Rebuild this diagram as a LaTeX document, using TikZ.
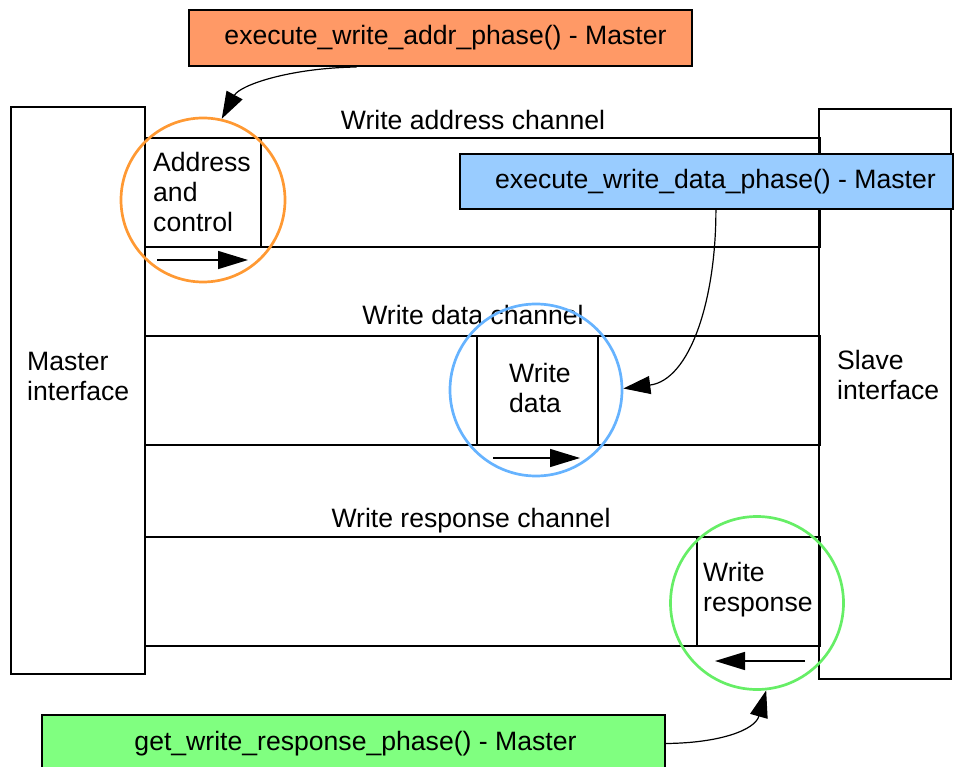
\documentclass[tikz,border=0pt]{standalone}
\usepackage{fontspec}
\setmainfont{Liberation Sans}
\usetikzlibrary{arrows.meta,calc}
\definecolor{ofill}{HTML}{FF9966}
\definecolor{bfill}{HTML}{99CCFF}
\definecolor{gfill}{HTML}{80FF80}
\definecolor{ocirc}{HTML}{FF9933}
\definecolor{bcirc}{HTML}{66B3FF}
\definecolor{gcirc}{HTML}{66EE66}
\begin{document}
\begin{tikzpicture}[x=1pt,y=-1pt,
  every node/.style={font=\fontsize{26.6}{30}\selectfont},
  wh/.style n args={2}{minimum width=#1pt, minimum height=#2pt},
  frame/.style={draw=black, line width=2pt, rectangle, inner sep=0pt},
  lbl/.style={inner sep=0pt, align=left},
  fn/.style={draw=black, line width=2pt, rectangle, inner sep=0pt},
  ring/.style={circle, line width=2.7pt, inner sep=0pt},
  sarr/.style={line width=1.5pt, -{Triangle[length=30pt,width=18pt]}},
  carr/.style={line width=1.2pt, -{Triangle[length=27pt,width=18pt]}}]
\useasboundingbox (0,0) rectangle (954,767);
% interfaces
\node[frame, wh={134}{567}] (master) at (78,390.5) {};
\node[frame, wh={132}{570}] (slave) at (885,394) {};
% channels
\node[frame, wh={675}{109}] (chA) at (482.5,192.5) {};
\node[frame, wh={116}{109}] (acbox) at (203,192.5) {};
\node[frame, wh={675}{109}] (chD) at (482.5,390.5) {};
\node[frame, wh={121}{109}] (wdbox) at (537.5,390.5) {};
\node[frame, wh={675}{109}] (chR) at (482.5,591.5) {};
\node[frame, wh={123}{109}] (wrbox) at (758.5,591.5) {};
% texts
\node[lbl, anchor=west] (mtxt) at (27,376) {Master\\interface};
\node[lbl, anchor=west] (stxt) at (837,375) {Slave\\interface};
\node[lbl, anchor=base] (chAl) at (473,129.5) {Write address channel};
\node[lbl, anchor=base] (chDl) at (473,325) {Write data channel};
\node[lbl, anchor=base] (chRl) at (471,527) {Write response channel};
\node[lbl, anchor=west] (actxt) at (153,192) {Address\\and\\control};
\node[lbl, anchor=west] (wdtxt) at (509,388) {Write\\data};
\node[lbl, anchor=west] (wrtxt) at (703,590) {Write\\response};
% direction arrows
\coordinate (a1) at (157,260); \coordinate (a2) at (248,260);
\coordinate (d1) at (493,458); \coordinate (d2) at (580,458);
\coordinate (r1) at (805,661); \coordinate (r2) at (715,661);
\draw[sarr] (a1) -- (a2);
\draw[sarr] (d1) -- (d2);
\draw[sarr] (r1) -- (r2);
% circles
\node[ring, draw=ocirc, minimum size=164pt] (oc) at (203,200) {};
\node[ring, draw=bcirc, minimum size=172pt] (bc) at (536,390) {};
\node[ring, draw=gcirc, minimum size=173pt] (gc) at (757,603) {};
% function boxes
\node[fn, fill=ofill, wh={503}{56}] (ofn) at (440.5,38) {\hspace*{10pt}execute\_write\_addr\_phase() - Master};
\node[fn, fill=bfill, wh={493}{55}] (bfn) at (706.5,181.5) {\hspace*{18pt}execute\_write\_data\_phase() - Master};
\node[fn, fill=gfill, wh={623}{57}] (gfn) at (353.5,743.5) {\hspace*{4pt}get\_write\_response\_phase() - Master};
% curved connectors
\draw[carr] ($(ofn.south west)!0.334!(ofn.south east)$) .. controls (290,68) and (240,85) .. (oc.77);
\draw[carr] ($(bfn.south west)!0.519!(bfn.south east)$) .. controls (716,300) and (690,380) .. (bc.1);
\draw[carr] (gfn.east) .. controls (720,743) and (755,730) .. (gc.-84);
\end{tikzpicture}
\end{document}
